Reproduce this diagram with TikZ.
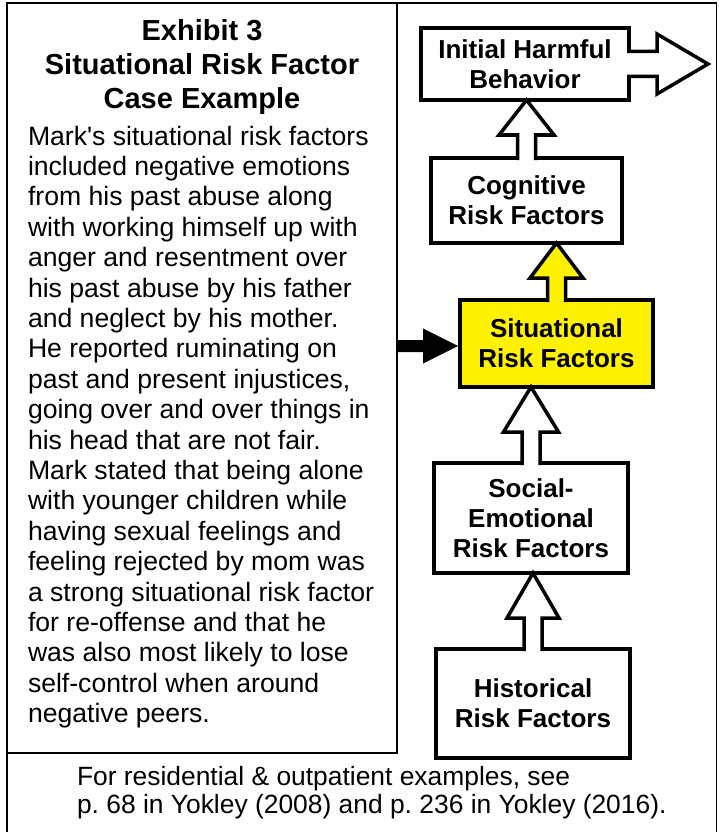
\documentclass[tikz,border=0pt]{standalone}
\usepackage{fontspec}
\newfontfamily\arialf{Liberation Sans}
\usetikzlibrary{calc}
\frenchspacing
\newcommand\upblock[6]{%
  \filldraw[blk, fill=#6] let \p1=(#1.north), \p2=(#2.south) in
    (\x1-#3,\y1-2pt) -- (\x1-#3,\y2-#5) -- (\x1-#4,\y2-#5) -- (\x1,\y2)
    -- (\x1+#4,\y2-#5) -- (\x1+#3,\y2-#5) -- (\x1+#3,\y1-2pt);}
\begin{document}
\begin{tikzpicture}[x=1pt,y=-1pt, line join=miter,
  rbox/.style={draw, line width=3.5pt, fill=white, align=center, inner sep=0pt, outer sep=0pt,
    font=\arialf\bfseries\fontsize{26}{30}\selectfont},
  blk/.style={draw, line width=3.5pt, miter limit=10},
  txt/.style={inner sep=0pt, outer sep=0pt, font=\arialf}]
\useasboundingbox (0,0) rectangle (718,832);
\fill[white] (0,0) rectangle (718,832);
% outer frame
\draw[line width=1.6pt] (7,838) -- (7,3) -- (716.5,3) -- (716.5,838);
% case example box
\node[draw, line width=2pt, minimum width=390pt, minimum height=750pt, anchor=north west,
  inner sep=0pt, outer sep=0pt] (story) at (7,3) {};
\node[txt, anchor=base] (title) at (202,41) {\parbox[t]{390pt}{\centering\bfseries\fontsize{29}{34}\selectfont
  Exhibit 3\\ Situational Risk Factor\\ Case Example}};
\node[txt, anchor=base west] (body) at (28,145) {\parbox[t]{380pt}{\raggedright\fontsize{26.6}{30.4}\selectfont
Mark's situational risk factors\\
included negative emotions\\
from his past abuse along\\
with working himself up with\\
anger and resentment over\\
his past abuse by his father\\
and neglect by his mother.\\
He reported ruminating on\\
past and present injustices,\\
going over and over things in\\
his head that are not fair.\\
Mark stated that being alone\\
with younger children while\\
having sexual feelings and\\
feeling rejected by mom was\\
a strong situational risk factor\\
for re-offense and that he\\
was also most likely to lose\\
self-control when around\\
negative peers.}};
% footnote
\node[txt, anchor=base west] (note) at (77,785) {\parbox[t]{640pt}{\raggedright\fontsize{26.4}{28}\selectfont
For residential \& outpatient examples, see\\
p. 68 in Yokley (2008) and p. 236 in Yokley (2016).}};
% risk factor boxes
\node[rbox, minimum width=208pt, minimum height=72pt] (init) at (525,64) {Initial Harmful\\Behavior};
\node[rbox, minimum width=191pt, minimum height=85pt] (cog) at (526.5,200.5) {Cognitive\\Risk Factors};
\node[rbox, fill=yellow, minimum width=193pt, minimum height=87pt] (sit) at (556.5,343.5) {Situational\\Risk Factors};
\node[rbox, minimum width=194pt, minimum height=110pt] (soc) at (531,518) {Social-\\Emotional\\Risk Factors};
\node[rbox, minimum width=194pt, minimum height=109pt] (hist) at (533,703.5) {Historical\\Risk Factors};
% block arrows
\upblock{cog}{init}{9pt}{27.5pt}{35pt}{white}
\upblock{sit}{cog}{9pt}{26.5pt}{35pt}{yellow}
\upblock{soc}{sit}{9pt}{27.5pt}{45pt}{white}
\upblock{hist}{soc}{9pt}{26pt}{45pt}{white}
\filldraw[blk, fill=white] let \p1=(init.east) in
  (\x1-2pt,\y1+12.5pt) -- (\x1+28pt,\y1+12.5pt) -- (\x1+28pt,\y1+30pt) -- (\x1+79pt,\y1)
  -- (\x1+28pt,\y1-30pt) -- (\x1+28pt,\y1-12.5pt) -- (\x1-2pt,\y1-12.5pt);
\fill let \p1=(sit.west), \p2=(story.east) in
  (\x2,\y1+3.5pt) -- (\x1-37pt,\y1+3.5pt) -- (\x1-37pt,\y1+15pt) -- (\x1-2pt,\y1-2.5pt)
  -- (\x1-37pt,\y1-20pt) -- (\x1-37pt,\y1-8.5pt) -- (\x2,\y1-8.5pt) -- cycle;
\end{tikzpicture}
\end{document}
